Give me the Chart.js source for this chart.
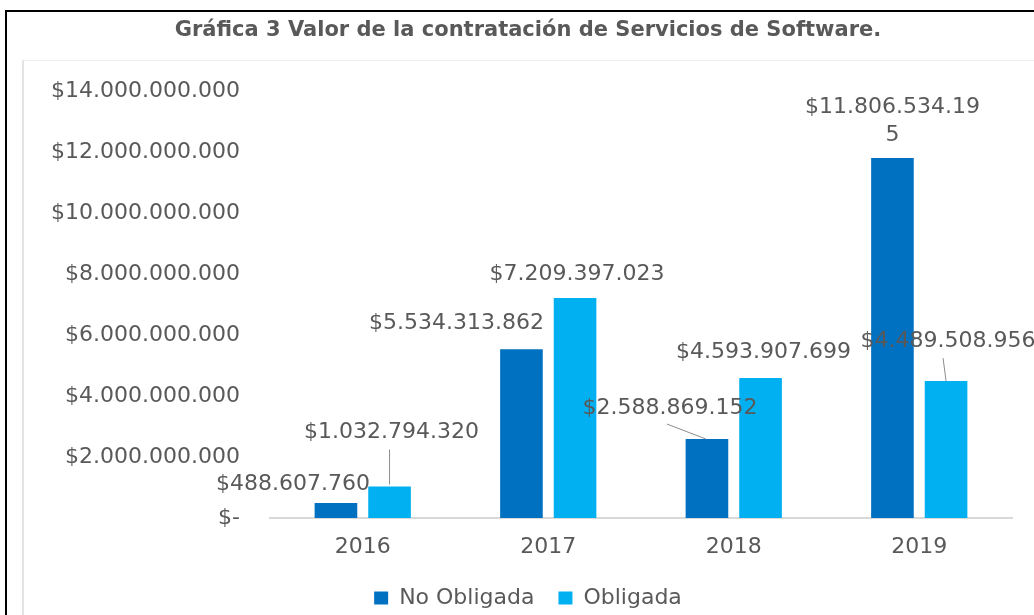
<!DOCTYPE html>
<html>
<head>
<meta charset="utf-8">
<script src="https://cdn.jsdelivr.net/npm/chart.js@4"></script>
<style>
  html, body { margin: 0; padding: 0; background: #fff; overflow: hidden; }
  #wrap { position: relative; width: 1034px; height: 619px; }
  #outer { position: absolute; left: 5px; top: 10px; width: 1100px; height: 700px;
           border-left: 2px solid #000; border-top: 2px solid #000; }
  #inner { position: absolute; left: 22px; top: 60px; width: 1100px; height: 700px;
           border-left: 2px solid #e4e4e4; border-top: 1px solid #eeeeee; }
  #chart { position: absolute; left: 0; top: 0; }
</style>
</head>
<body>
<div id="wrap">
  <div id="outer"></div>
  <div id="inner"></div>
  <canvas id="chart" width="1034" height="619"></canvas>
</div>
<script>
const years = ["2016", "2017", "2018", "2019"];
const noObligada = [488607760, 5534313862, 2588869152, 11806534195];
const obligada = [1032794320, 7209397023, 4593907699, 4489508956];
const yMax = 14000000000;
const yStep = 2000000000;

const textColor = "#595959";

// posición manual de las etiquetas (como en Excel), relativa al tope de cada barra
const labelOffsets = [
  [{ dx: -43, dy: -19 }, { dx: -65, dy: -26 }, { dx: -37, dy: -31, lead: [-40, -15, -1, 0] }, { dx: 0, dy: -51 }],
  [{ dx: 2, dy: -54, lead: [0, -37, 0, -2] }, { dx: 2, dy: -24 }, { dx: 3, dy: -26 }, { dx: 2, dy: -40, lead: [-3, -23, 0, 0] }]
];

function money(v) {
  if (v === 0) return "$-";
  return "$" + String(Math.round(v)).replace(/\B(?=(\d{3})+(?!\d))/g, ".");
}

const dataLabels = {
  id: "dataLabels",
  afterDatasetsDraw(chart) {
    const ctx = chart.ctx;
    ctx.save();
    ctx.font = "22px 'DejaVu Sans'";
    ctx.textAlign = "center";
    ctx.textBaseline = "middle";
    chart.data.datasets.forEach((ds, di) => {
      chart.getDatasetMeta(di).data.forEach((bar, i) => {
        const off = labelOffsets[di][i];
        if (off.lead) {
          ctx.strokeStyle = "#8c8c8c";
          ctx.lineWidth = 1;
          ctx.beginPath();
          ctx.moveTo(bar.x + off.lead[0], bar.y + off.lead[1]);
          ctx.lineTo(bar.x + off.lead[2], bar.y + off.lead[3]);
          ctx.stroke();
        }
        let text = money(ds.data[i]);
        const lines = [];
        while (ctx.measureText(text).width > 182) {
          let cut = text.length - 1;
          while (ctx.measureText(text.slice(0, cut)).width > 182) cut--;
          lines.push(text.slice(0, cut));
          text = text.slice(cut);
        }
        lines.push(text);
        ctx.fillStyle = textColor;
        lines.forEach((l, k) => ctx.fillText(l, bar.x + off.dx, bar.y + off.dy + k * 28));
      });
    });
    ctx.restore();
  }
};

Chart.defaults.font.family = "'DejaVu Sans'";
Chart.defaults.color = textColor;

new Chart(document.getElementById("chart"), {
  type: "bar",
  data: {
    labels: years,
    datasets: [
      { label: "No Obligada", data: noObligada, backgroundColor: "#0070c0" },
      { label: "Obligada", data: obligada, backgroundColor: "#00b0f0" }
    ]
  },
  options: {
    responsive: false,
    animation: false,
    categoryPercentage: 0.578,
    barPercentage: 0.795,
    layout: { padding: { left: 44, right: 22, top: 0, bottom: 0 } },
    plugins: {
      title: {
        display: true,
        text: "Gráfica 3 Valor de la contratación de Servicios de Software.",
        color: textColor,
        font: { size: 21, weight: "bold" },
        padding: { top: 18, bottom: 47.8 }
      },
      legend: {
        position: "bottom",
        labels: {
          boxWidth: 14,
          boxHeight: 13,
          padding: 24,
          color: textColor,
          font: { size: 22 }
        }
      },
      tooltip: { enabled: false }
    },
    scales: {
      x: {
        grid: { display: false, drawTicks: false },
        border: { display: true, color: "#d9d9d9", width: 2 },
        ticks: { padding: 16, font: { size: 22 }, color: textColor },
        afterFit: (s) => { s.height = 45; }
      },
      y: {
        min: 0,
        max: yMax,
        grid: { display: false, drawTicks: false },
        border: { display: false },
        ticks: {
          stepSize: yStep,
          padding: 30,
          font: { size: 22 },
          color: textColor,
          callback: (v) => money(v)
        },
        afterFit: (s) => { s.width = 226; }
      }
    }
  },
  plugins: [dataLabels]
});
</script>
</body>
</html>
